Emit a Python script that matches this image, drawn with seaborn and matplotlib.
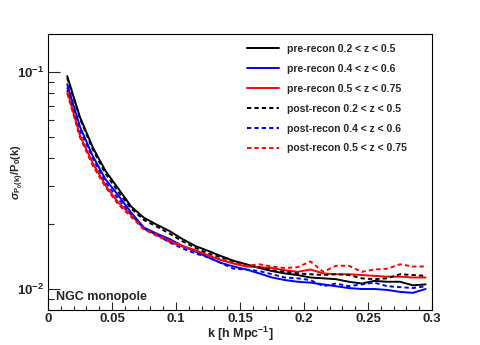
import numpy as np
import pandas as pd
import seaborn as sns
import matplotlib
matplotlib.use("Agg")
import matplotlib.pyplot as plt
import matplotlib.ticker as mtick

# k bins [h/Mpc]
k = [0.015, 0.025, 0.035, 0.045, 0.055, 0.065, 0.075, 0.085, 0.095, 0.105,
     0.115, 0.125, 0.135, 0.145, 0.155, 0.165, 0.175, 0.185, 0.195, 0.205,
     0.215, 0.225, 0.235, 0.245, 0.255, 0.265, 0.275, 0.285, 0.295]

pre_z1 = [0.096, 0.062, 0.045, 0.035, 0.029, 0.024, 0.0213, 0.0198, 0.0185, 0.0170,
          0.0158, 0.0150, 0.0142, 0.0135, 0.0130, 0.0125, 0.0121, 0.0118, 0.0116, 0.0113,
          0.0112, 0.0111, 0.0108, 0.0106, 0.0109, 0.0108, 0.0108, 0.0104, 0.0105]
pre_z2 = [0.088, 0.056, 0.041, 0.032, 0.027, 0.0225, 0.0192, 0.0180, 0.0170, 0.0158,
          0.0149, 0.0140, 0.0132, 0.0127, 0.0123, 0.0118, 0.0113, 0.0110, 0.0108, 0.0107,
          0.0105, 0.0103, 0.0101, 0.0100, 0.0100, 0.0099, 0.0097, 0.0096, 0.0100]
pre_z3 = [0.082, 0.051, 0.038, 0.030, 0.025, 0.022, 0.0190, 0.0178, 0.0167, 0.0158,
          0.0151, 0.0143, 0.0136, 0.0131, 0.0127, 0.0126, 0.0125, 0.0122, 0.0120, 0.0123,
          0.0118, 0.0117, 0.0117, 0.0116, 0.0115, 0.0114, 0.0114, 0.0113, 0.0113]
post_z1 = [0.094, 0.061, 0.044, 0.034, 0.028, 0.0235, 0.0208, 0.0194, 0.0180, 0.0166,
           0.0155, 0.0146, 0.0140, 0.0134, 0.0129, 0.0126, 0.0122, 0.0120, 0.0118, 0.0117,
           0.0116, 0.0117, 0.0116, 0.0112, 0.0111, 0.0112, 0.0117, 0.0116, 0.0115]
post_z2 = [0.085, 0.054, 0.040, 0.031, 0.026, 0.0222, 0.0190, 0.0178, 0.0164, 0.0154,
           0.0146, 0.0140, 0.0132, 0.0124, 0.0123, 0.0121, 0.0117, 0.0113, 0.0112, 0.0110,
           0.0103, 0.0106, 0.0103, 0.0105, 0.0107, 0.0103, 0.0102, 0.0101, 0.0103]
post_z3 = [0.080, 0.050, 0.037, 0.0295, 0.0245, 0.0215, 0.0188, 0.0176, 0.0165, 0.0157,
           0.0150, 0.0143, 0.0137, 0.0132, 0.0128, 0.0130, 0.0127, 0.0125, 0.0126, 0.0134,
           0.0120, 0.0128, 0.0128, 0.0120, 0.0123, 0.0124, 0.0130, 0.0127, 0.0127]

labels = ["pre-recon 0.2 < z < 0.5", "pre-recon 0.4 < z < 0.6", "pre-recon 0.5 < z < 0.75",
          "post-recon 0.2 < z < 0.5", "post-recon 0.4 < z < 0.6", "post-recon 0.5 < z < 0.75"]
series = [pre_z1, pre_z2, pre_z3, post_z1, post_z2, post_z3]
colors = ["black", "#0000ff", "#ff0000", "black", "#0000ff", "#ff0000"]

sns.set_style("ticks")
plt.rcParams["font.family"] = ["Liberation Sans", "DejaVu Sans"]
plt.rcParams["font.weight"] = "bold"
plt.rcParams["mathtext.fontset"] = "custom"
plt.rcParams["mathtext.rm"] = "Liberation Sans:bold"
plt.rcParams["mathtext.bf"] = "Liberation Sans:bold"
plt.rcParams["mathtext.it"] = "Liberation Sans:italic"

fig = plt.figure(figsize=(4.8, 3.45), dpi=100)
ax = fig.add_axes([0.1, 0.1014, 0.8, 0.8])

for i, (lab, vals, col) in enumerate(zip(labels, series, colors)):
    ls = "-" if i < 3 else (0, (2.2, 1.6))
    sns.lineplot(x=k, y=vals, color=col, linestyle=ls, lw=1.4, label=lab, ax=ax)

ax.set_yscale("log")
ax.set_xlim(0, 0.3)
ax.set_ylim(0.008, 0.15)

ax.xaxis.set_major_locator(mtick.MultipleLocator(0.05))
ax.xaxis.set_minor_locator(mtick.MultipleLocator(0.01))
ax.xaxis.set_major_formatter(mtick.FuncFormatter(lambda v, p: "0" if v == 0 else f"{v:g}"))
ax.yaxis.set_major_locator(mtick.LogLocator(base=10))
ax.yaxis.set_minor_locator(mtick.LogLocator(base=10, subs=np.arange(2, 10)))
ax.yaxis.set_major_formatter(mtick.FuncFormatter(
    lambda v, p: r"$\mathbf{10^{%d}}$" % int(round(np.log10(v)))))
ax.yaxis.set_minor_formatter(mtick.NullFormatter())

ax.tick_params(axis="x", which="major", direction="in", length=6, width=0.8, labelsize=9.5, pad=2)
ax.tick_params(axis="x", which="minor", direction="in", length=3, width=0.8)
ax.tick_params(axis="y", which="major", direction="in", length=8.5, width=0.8, labelsize=9.5, pad=3)
ax.tick_params(axis="y", which="minor", direction="in", length=4.2, width=0.8)
for s in ax.spines.values():
    s.set_linewidth(0.8)
    s.set_color("black")

ax.set_xlabel(r"k [h Mpc$^{\mathbf{-1}}$]", fontsize=9, fontweight="bold")
ax.xaxis.set_label_coords(0.5, -0.052)
ax.set_ylabel(r"$\sigma_{\mathbf{P_{0}(k)}}\mathbf{/P_{0}(k)}$", fontsize=8)
ax.yaxis.set_label_coords(-0.058, 0.5)

ax.text(0.022, 0.048, "NGC monopole", transform=ax.transAxes, fontsize=9,
        fontweight="bold", va="center", ha="left")

ax.legend(loc="upper left", bbox_to_anchor=(247 / 480, 1 - 44 / 345),
          bbox_transform=fig.transFigure, frameon=False, fontsize=7.5,
          handlelength=3.1, handletextpad=0.75, labelspacing=0.95,
          borderpad=0, borderaxespad=0)

fig.savefig("out.png", dpi=100)
